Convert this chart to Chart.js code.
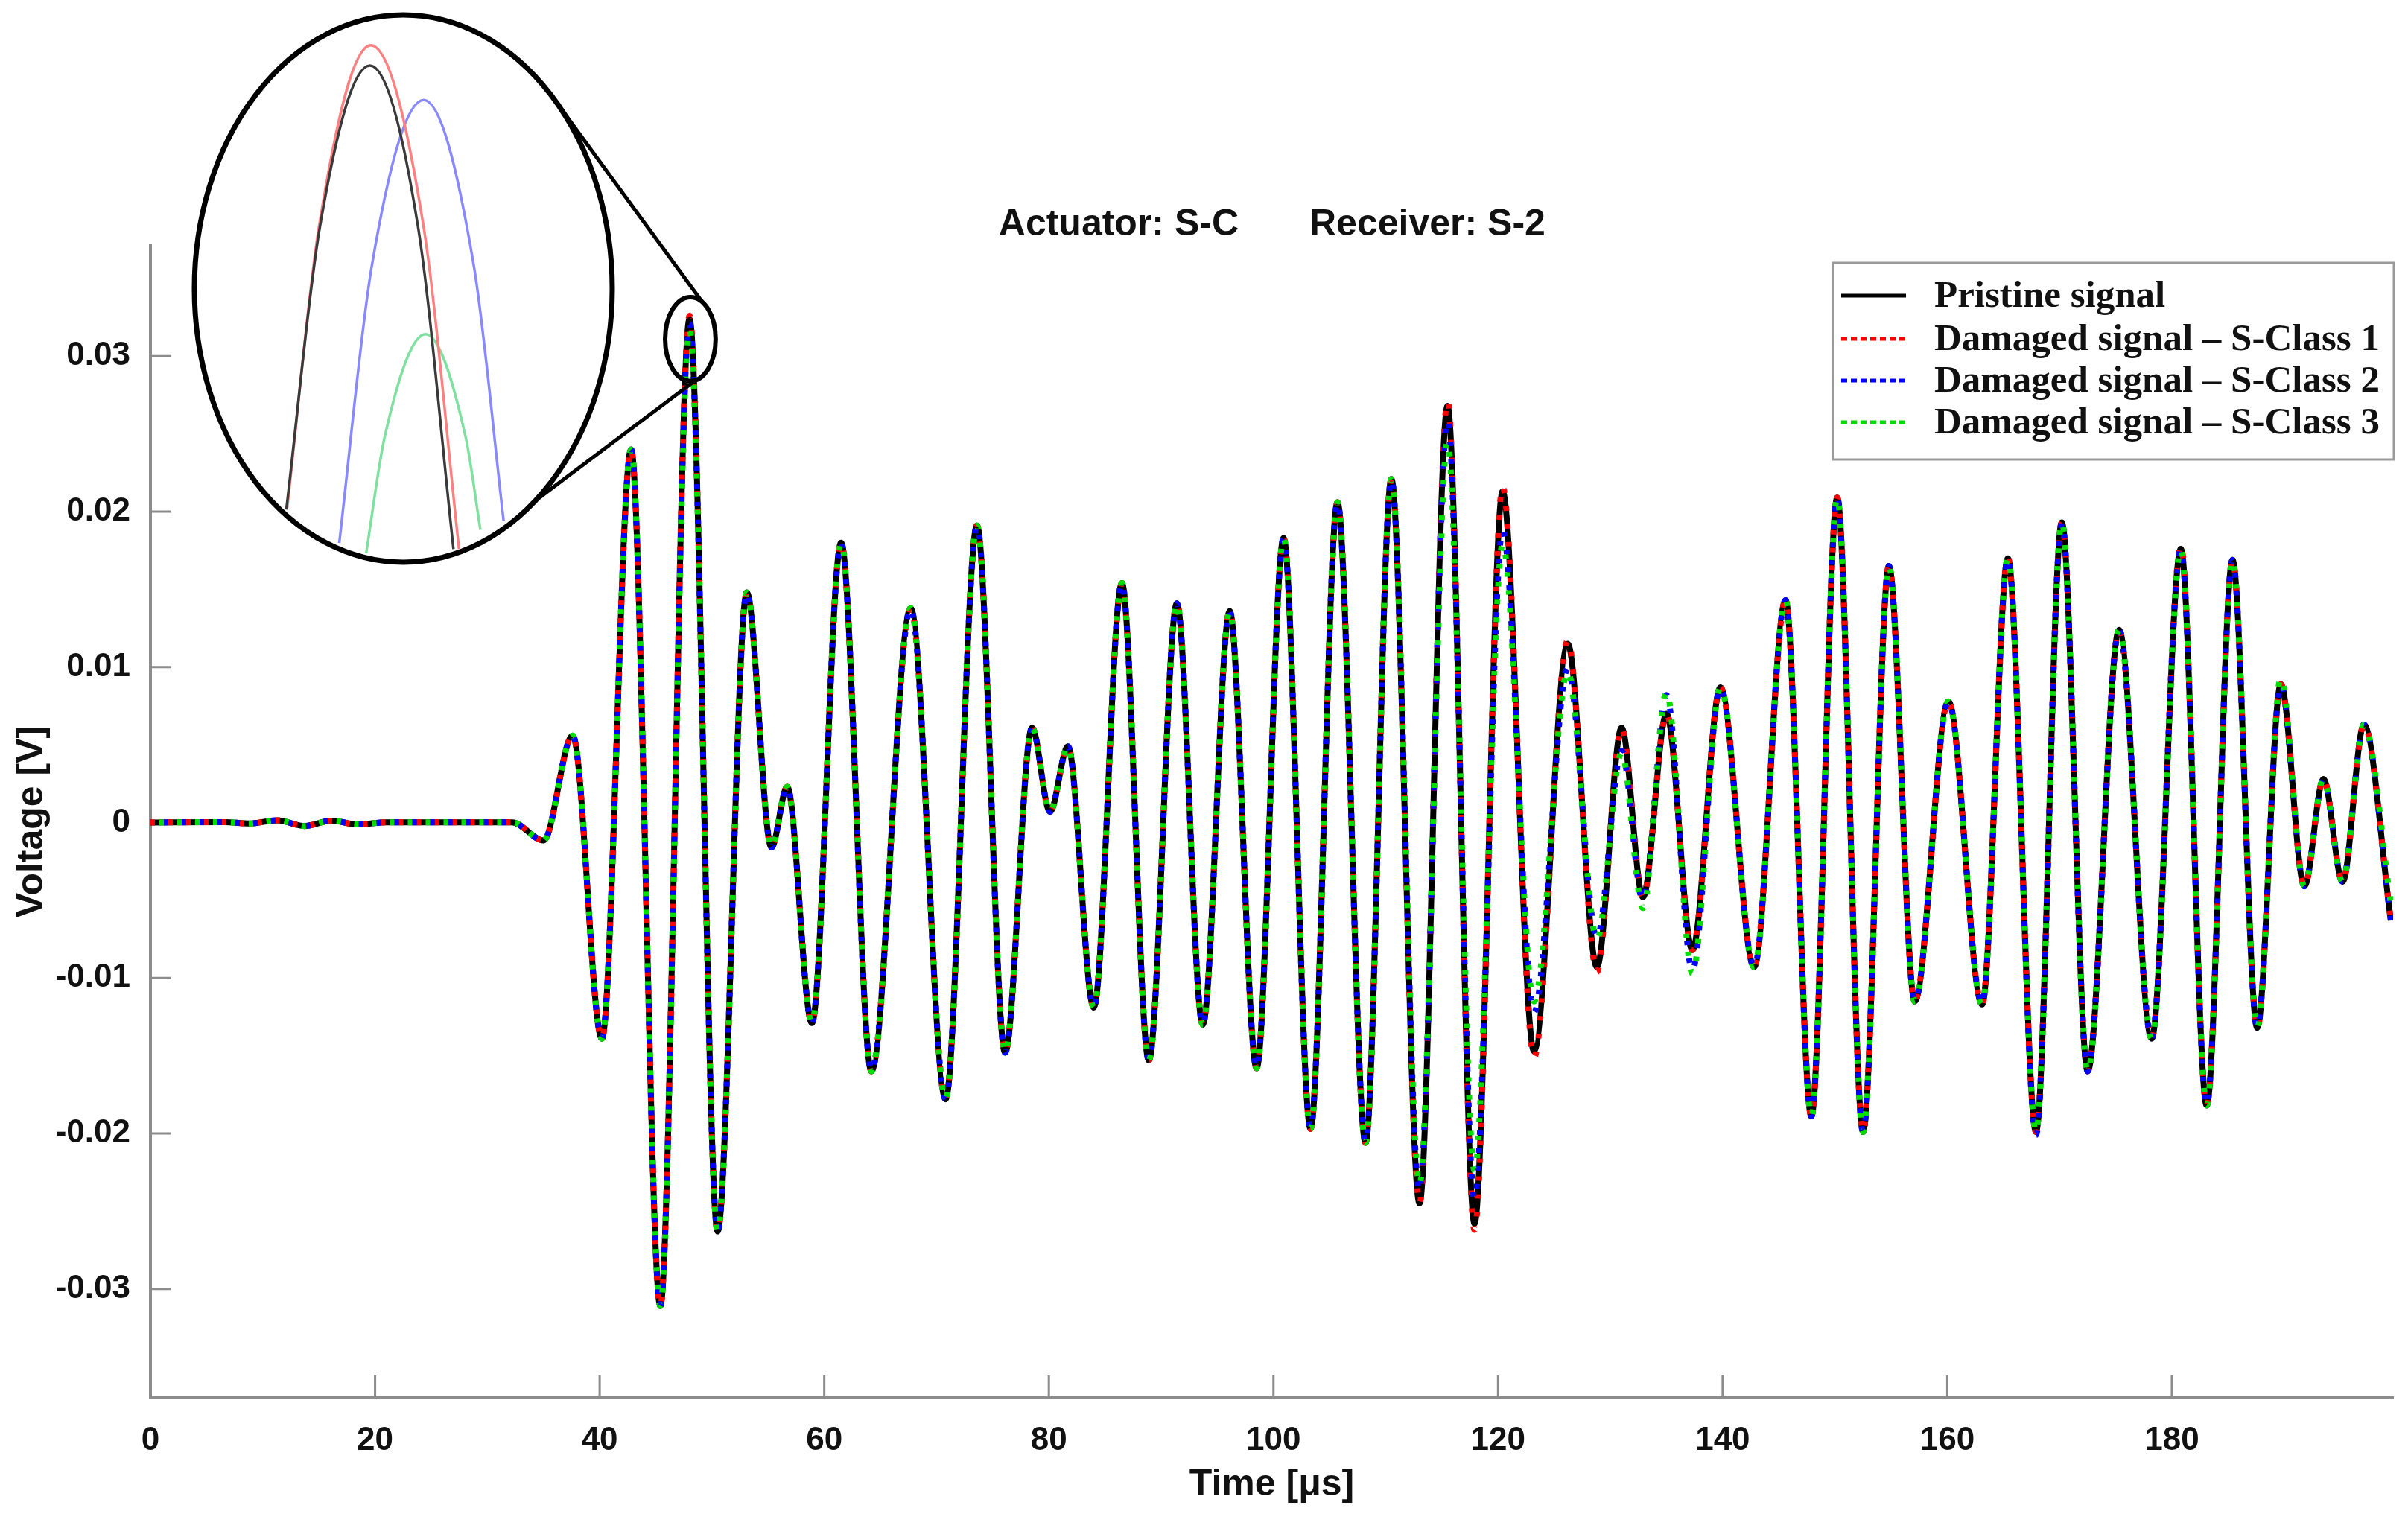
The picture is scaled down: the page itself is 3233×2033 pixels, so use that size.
<!DOCTYPE html>
<html lang="en">
<head>
    <meta charset="UTF-8">
    <title>Actuator: S-C  Receiver: S-2</title>
    <style>
        body {
            margin: 0;
            background: #fff;
        }
        #wrap {
            position: relative;
            width: 3233px;
            height: 2033px;
        }
        #main {
            position: absolute;
            left: 0;
            top: 0;
        }
        #zoom {
            position: absolute;
            left: 256px;
            top: 14px;
        }
    </style>
</head>
<body>
<div id="wrap">
    <canvas id="main" width="3233" height="2033"></canvas>
    <canvas id="zoom" width="572" height="748"></canvas>
</div>

<script src="https://cdn.jsdelivr.net/npm/chart.js@4"></script>
<script>
    // time of each extremum [us]
    const times = [
        0, 6.6, 8.8, 11.3, 13.7, 16.1, 18.5, 21.0, 32.2, 35.0,
        37.6, 40.2, 42.8, 45.4, 48.0, 50.5, 53.1, 55.3, 56.7, 58.9,
        61.5, 64.2, 67.7, 70.8, 73.6, 76.1, 78.5, 80.1, 81.7, 84.0,
        86.5, 88.9, 91.4, 93.7, 96.1, 98.5, 100.9, 103.3, 105.7, 108.2,
        110.5, 113.0, 115.5, 117.9, 120.4, 123.2, 126.2, 128.8, 131.0, 132.9,
        135.0, 137.3, 139.8, 142.8, 145.6, 147.9, 150.2, 152.5, 154.8, 157.1,
        160.1, 163.1, 165.4, 167.9, 170.2, 172.5, 175.3, 178.2, 180.8, 183.1,
        185.4, 187.6, 189.7, 191.8, 193.5, 195.2, 197.1, 199.5
    ];

    const pristine = [
        0, 0.00003, -0.00006, 0.00015, -0.00022, 0.00012, -0.00012, 0.00002, 0.00002, -0.00115,
        0.0056, -0.0139, 0.0240, -0.0311, 0.0324, -0.0263, 0.0148, -0.0016, 0.0023, -0.0129,
        0.0180, -0.0160, 0.0138, -0.0178, 0.0191, -0.0148, 0.0061, 0.0007, 0.0049, -0.0119,
        0.0154, -0.0153, 0.0141, -0.0130, 0.0136, -0.0158, 0.0183, -0.0197, 0.0206, -0.0206,
        0.0221, -0.0245, 0.0268, -0.0258, 0.0213, -0.0147, 0.0115, -0.0093, 0.0061, -0.0048,
        0.0070, -0.0082, 0.0087, -0.0093, 0.0143, -0.0189, 0.0209, -0.0199, 0.0165, -0.0115,
        0.0078, -0.0117, 0.0170, -0.0199, 0.0193, -0.0160, 0.0124, -0.0139, 0.0176, -0.0182,
        0.0169, -0.0132, 0.0089, -0.0041, 0.0028, -0.0038, 0.0063, -0.0063
    ];

    const class1 = [
        0, 0.00003, -0.00006, 0.00015, -0.00022, 0.00012, -0.00012, 0.00002, 0.00002, -0.00115,
        0.0056, -0.0139, 0.0240, -0.0311, 0.0326, -0.0263, 0.0148, -0.0016, 0.0023, -0.0129,
        0.0180, -0.0160, 0.0138, -0.0178, 0.0191, -0.0148, 0.0061, 0.0007, 0.0049, -0.0119,
        0.0154, -0.0153, 0.0141, -0.0130, 0.0136, -0.0158, 0.0183, -0.0197, 0.0206, -0.0206,
        0.0221, -0.0245, 0.0271, -0.0262, 0.0216, -0.0151, 0.0117, -0.0096, 0.0061, -0.0048,
        0.0070, -0.0082, 0.0087, -0.0093, 0.0143, -0.0189, 0.0209, -0.0199, 0.0165, -0.0115,
        0.0078, -0.0117, 0.0170, -0.0199, 0.0193, -0.0160, 0.0124, -0.0139, 0.0178, -0.0182,
        0.0169, -0.0132, 0.0089, -0.0041, 0.0028, -0.0038, 0.0063, -0.0063
    ];

    const class2 = [
        0, 0.00003, -0.00006, 0.00015, -0.00022, 0.00012, -0.00012, 0.00002, 0.00002, -0.00115,
        0.0056, -0.0139, 0.0240, -0.0311, 0.0321, -0.0263, 0.0148, -0.0016, 0.0023, -0.0129,
        0.0180, -0.0160, 0.0138, -0.0178, 0.0191, -0.0148, 0.0061, 0.0007, 0.0049, -0.0119,
        0.0154, -0.0153, 0.0141, -0.0130, 0.0136, -0.0158, 0.0183, -0.0197, 0.0206, -0.0206,
        0.0221, -0.0237, 0.0259, -0.0242, 0.0188, -0.0122, 0.0099, -0.0074, 0.0046, -0.0050,
        0.0082, -0.0095, 0.0087, -0.0093, 0.0143, -0.0189, 0.0209, -0.0199, 0.0165, -0.0115,
        0.0078, -0.0117, 0.0170, -0.0201, 0.0193, -0.0160, 0.0124, -0.0139, 0.0176, -0.0182,
        0.0169, -0.0132, 0.0089, -0.0041, 0.0028, -0.0038, 0.0063, -0.0063
    ];

    const class3 = [
        0, 0.00003, -0.00006, 0.00015, -0.00022, 0.00012, -0.00012, 0.00002, 0.00002, -0.00115,
        0.0056, -0.0139, 0.0240, -0.0311, 0.0317, -0.0263, 0.0148, -0.0016, 0.0023, -0.0129,
        0.0180, -0.0160, 0.0138, -0.0178, 0.0191, -0.0148, 0.0061, 0.0007, 0.0049, -0.0119,
        0.0154, -0.0153, 0.0141, -0.0130, 0.0136, -0.0158, 0.0183, -0.0197, 0.0206, -0.0206,
        0.0221, -0.0233, 0.0245, -0.0224, 0.0179, -0.0115, 0.0097, -0.0075, 0.0045, -0.0055,
        0.0084, -0.0097, 0.0087, -0.0093, 0.0143, -0.0189, 0.0209, -0.0199, 0.0165, -0.0115,
        0.0078, -0.0117, 0.0170, -0.0199, 0.0193, -0.0160, 0.0124, -0.0139, 0.0176, -0.0182,
        0.0169, -0.0132, 0.0093, -0.0041, 0.0028, -0.0038, 0.0063, -0.0052
    ];

    // magnified view of the peak near 48 us (inset)
    const zoomPristineT = [46.79, 47.15, 47.69, 48.21, 48.59];
    const zoomPristineV = [0.02892, 0.03170, 0.03330, 0.03170, 0.02853];
    const zoomClass1T = [46.80, 47.14, 47.70, 48.27, 48.65];
    const zoomClass1V = [0.02894, 0.03170, 0.03350, 0.03170, 0.02853];
    const zoomClass2T = [47.36, 47.71, 48.27, 48.81, 49.13];
    const zoomClass2V = [0.02859, 0.03132, 0.03296, 0.03132, 0.02881];
    const zoomClass3T = [47.65, 47.85, 48.29, 48.72, 48.88];
    const zoomClass3V = [0.02849, 0.02964, 0.03065, 0.02964, 0.02872];

    const xTicks = [0, 20, 40, 60, 80, 100, 120, 140, 160, 180];
    const yTicks = [-0.03, -0.02, -0.01, 0, 0.01, 0.02, 0.03];
    const yTickLabels = ['-0.03', '-0.02', '-0.01', '0', '0.01', '0.02', '0.03'];

    const seriesNames = [
        'Pristine signal',
        'Damaged signal \u2013 S-Class 1',
        'Damaged signal \u2013 S-Class 2',
        'Damaged signal \u2013 S-Class 3'
    ];
    const seriesColors = ['#000000', '#ff0000', '#0000ff', '#00dd00'];
    const titleParts = ['Actuator: S-C', 'Receiver: S-2'];

    const sans = '"Liberation Sans", Arial, sans-serif';
    const serif = '"Liberation Serif", "Times New Roman", serif';

    const toPoints = (xs, ys) => xs.map((t, i) => ({ x: t, y: ys[i] }));

    // magnifier geometry (page pixels / data units)
    const bigEllipse = { cx: 541.5, cy: 387.5, rx: 280.5, ry: 367.5 };
    const smallEllipse = { t: 48.08, v: 0.0311, dt: 2.25, dv: 0.0027 };

    const decor = {
        id: 'decor',
        beforeDatasetsDraw(chart) {
            const { ctx, chartArea: a, scales: { x, y } } = chart;
            ctx.save();
            ctx.strokeStyle = '#8c8c8c';
            ctx.lineWidth = 3;
            ctx.beginPath();
            xTicks.forEach(v => {
                const px = x.getPixelForValue(v);
                ctx.moveTo(px, a.bottom);
                ctx.lineTo(px, a.bottom - 30);
            });
            yTicks.forEach(v => {
                const py = y.getPixelForValue(v);
                ctx.moveTo(a.left, py);
                ctx.lineTo(a.left + 28, py);
            });
            ctx.stroke();
            ctx.restore();
        },
        afterDraw(chart) {
            const { ctx, scales: { x, y } } = chart;
            ctx.save();

            // title
            ctx.fillStyle = '#111';
            ctx.font = 'bold 50px ' + sans;
            ctx.textBaseline = 'middle';
            ctx.textAlign = 'right';
            ctx.fillText(titleParts[0], 1663, 302);
            ctx.textAlign = 'left';
            ctx.fillText(titleParts[1], 1758, 302);

            // small ellipse round the peak and the lines to the inset
            const cx = x.getPixelForValue(smallEllipse.t);
            const cy = y.getPixelForValue(smallEllipse.v);
            const rx = x.getPixelForValue(smallEllipse.t + smallEllipse.dt) - cx;
            const ry = cy - y.getPixelForValue(smallEllipse.v + smallEllipse.dv);
            ctx.strokeStyle = '#000';
            ctx.lineWidth = 6;
            ctx.beginPath();
            ctx.ellipse(cx, cy, rx, ry, 0, 0, Math.PI * 2);
            ctx.stroke();

            const onBig = deg => [bigEllipse.cx + bigEllipse.rx * Math.cos(deg * Math.PI / 180),
                                  bigEllipse.cy + bigEllipse.ry * Math.sin(deg * Math.PI / 180)];
            const onSmall = deg => [cx + rx * Math.cos(deg * Math.PI / 180),
                                    cy + ry * Math.sin(deg * Math.PI / 180)];
            ctx.lineWidth = 5;
            ctx.beginPath();
            let p = onBig(-42.8), q = onSmall(-62);
            ctx.moveTo(p[0], p[1]);
            ctx.lineTo(q[0], q[1]);
            p = onBig(50.7); q = onSmall(78);
            ctx.moveTo(p[0], p[1]);
            ctx.lineTo(q[0], q[1]);
            ctx.stroke();

            // legend
            const box = { left: 2461, top: 353, right: 3214, bottom: 617 };
            ctx.fillStyle = '#fff';
            ctx.fillRect(box.left, box.top, box.right - box.left, box.bottom - box.top);
            ctx.strokeStyle = '#9a9a9a';
            ctx.lineWidth = 3;
            ctx.strokeRect(box.left, box.top, box.right - box.left, box.bottom - box.top);

            const rows = [397, 455, 511, 567];
            ctx.font = 'bold 51px ' + serif;
            ctx.textAlign = 'left';
            seriesNames.forEach((name, i) => {
                ctx.strokeStyle = seriesColors[i];
                ctx.lineWidth = 5;
                ctx.setLineDash(i === 0 ? [] : [8, 5]);
                ctx.beginPath();
                ctx.moveTo(2472, rows[i]);
                ctx.lineTo(2559, rows[i]);
                ctx.stroke();
                ctx.setLineDash([]);
                ctx.fillStyle = '#111';
                ctx.fillText(name, 2597, rows[i] + 2);
            });
            ctx.restore();
        }
    };

    const lineSet = (i, data, dash, offset, order) => ({
        label: seriesNames[i],
        data: data,
        borderColor: seriesColors[i],
        borderWidth: 8,
        borderDash: dash,
        borderDashOffset: offset,
        pointRadius: 0,
        fill: false,
        cubicInterpolationMode: 'monotone',
        order: order
    });

    new Chart(document.getElementById('main'), {
        type: 'line',
        data: {
            datasets: [
                lineSet(0, toPoints(times, pristine), [], 0, 4),
                lineSet(1, toPoints(times, class1), [6, 18], 0, 3),
                lineSet(2, toPoints(times, class2), [6, 18], 6, 2),
                lineSet(3, toPoints(times, class3), [6, 18], 12, 1)
            ]
        },
        options: {
            responsive: false,
            animation: false,
            devicePixelRatio: 1,
            layout: { padding: { left: 0, right: 20, top: 330, bottom: 0 } },
            plugins: {
                legend: { display: false },
                tooltip: { enabled: false }
            },
            scales: {
                x: {
                    type: 'linear',
                    min: 0,
                    max: 199.7,
                    afterFit: s => { s.height = 156; },
                    afterBuildTicks: s => { s.ticks = xTicks.map(v => ({ value: v })); },
                    grid: { display: false },
                    border: { display: true, color: '#8c8c8c', width: 4 },
                    ticks: {
                        autoSkip: false,
                        maxRotation: 0,
                        padding: 23,
                        color: '#111',
                        font: { family: sans, size: 44, weight: 'bold' }
                    },
                    title: {
                        display: true,
                        text: 'Time [\u03bcs]',
                        color: '#111',
                        font: { family: sans, size: 50, weight: 'bold', lineHeight: 1.2 },
                        padding: { top: 0, bottom: 9 }
                    }
                },
                y: {
                    type: 'linear',
                    min: -0.037,
                    max: 0.0371,
                    afterFit: s => { s.width = 202; },
                    afterBuildTicks: s => { s.ticks = yTicks.map(v => ({ value: v })); },
                    grid: { display: false },
                    border: { display: true, color: '#8c8c8c', width: 4 },
                    ticks: {
                        padding: 19,
                        color: '#111',
                        font: { family: sans, size: 44, weight: 'bold' },
                        callback: (v, i) => yTickLabels[i]
                    },
                    title: {
                        display: true,
                        text: 'Voltage [V]',
                        color: '#111',
                        font: { family: sans, size: 50, weight: 'bold', lineHeight: 1.2 },
                        padding: { top: 13, bottom: 0 }
                    }
                }
            }
        },
        plugins: [decor]
    });

    // inset: white ellipse with the magnified peak
    const ellipseFrame = {
        id: 'ellipseFrame',
        path(chart) {
            const a = chart.chartArea;
            const ctx = chart.ctx;
            ctx.beginPath();
            ctx.ellipse((a.left + a.right) / 2, (a.top + a.bottom) / 2,
                        (a.right - a.left) / 2, (a.bottom - a.top) / 2, 0, 0, Math.PI * 2);
        },
        beforeDraw(chart) {
            chart.ctx.save();
            this.path(chart);
            chart.ctx.fillStyle = '#fff';
            chart.ctx.fill();
            chart.ctx.restore();
        },
        beforeDatasetsDraw(chart) {
            chart.ctx.save();
            this.path(chart);
            chart.ctx.clip();
        },
        afterDatasetsDraw(chart) {
            chart.ctx.restore();
        },
        afterDraw(chart) {
            chart.ctx.save();
            this.path(chart);
            chart.ctx.strokeStyle = '#000';
            chart.ctx.lineWidth = 7;
            chart.ctx.stroke();
            chart.ctx.restore();
        }
    };

    const zoomSet = (data, color, order) => ({
        data: data,
        borderColor: color,
        borderWidth: 3.5,
        pointRadius: 0,
        fill: false,
        cubicInterpolationMode: 'monotone',
        order: order
    });

    new Chart(document.getElementById('zoom'), {
        type: 'line',
        data: {
            datasets: [
                zoomSet(toPoints(zoomPristineT, zoomPristineV), '#3a3a3a', 1),
                zoomSet(toPoints(zoomClass1T, zoomClass1V), '#ff8080', 2),
                zoomSet(toPoints(zoomClass2T, zoomClass2V), '#8888ff', 3),
                zoomSet(toPoints(zoomClass3T, zoomClass3V), '#80e0a0', 4)
            ]
        },
        options: {
            responsive: false,
            animation: false,
            devicePixelRatio: 1,
            layout: { padding: { left: 5, right: 6, top: 6, bottom: 7 } },
            plugins: {
                legend: { display: false },
                tooltip: { enabled: false }
            },
            scales: {
                x: { type: 'linear', display: false, min: 45.8, max: 50.3 },
                y: { type: 'linear', display: false, min: 0.0284, max: 0.0338 }
            }
        },
        plugins: [ellipseFrame]
    });
</script>
</body>
</html>
